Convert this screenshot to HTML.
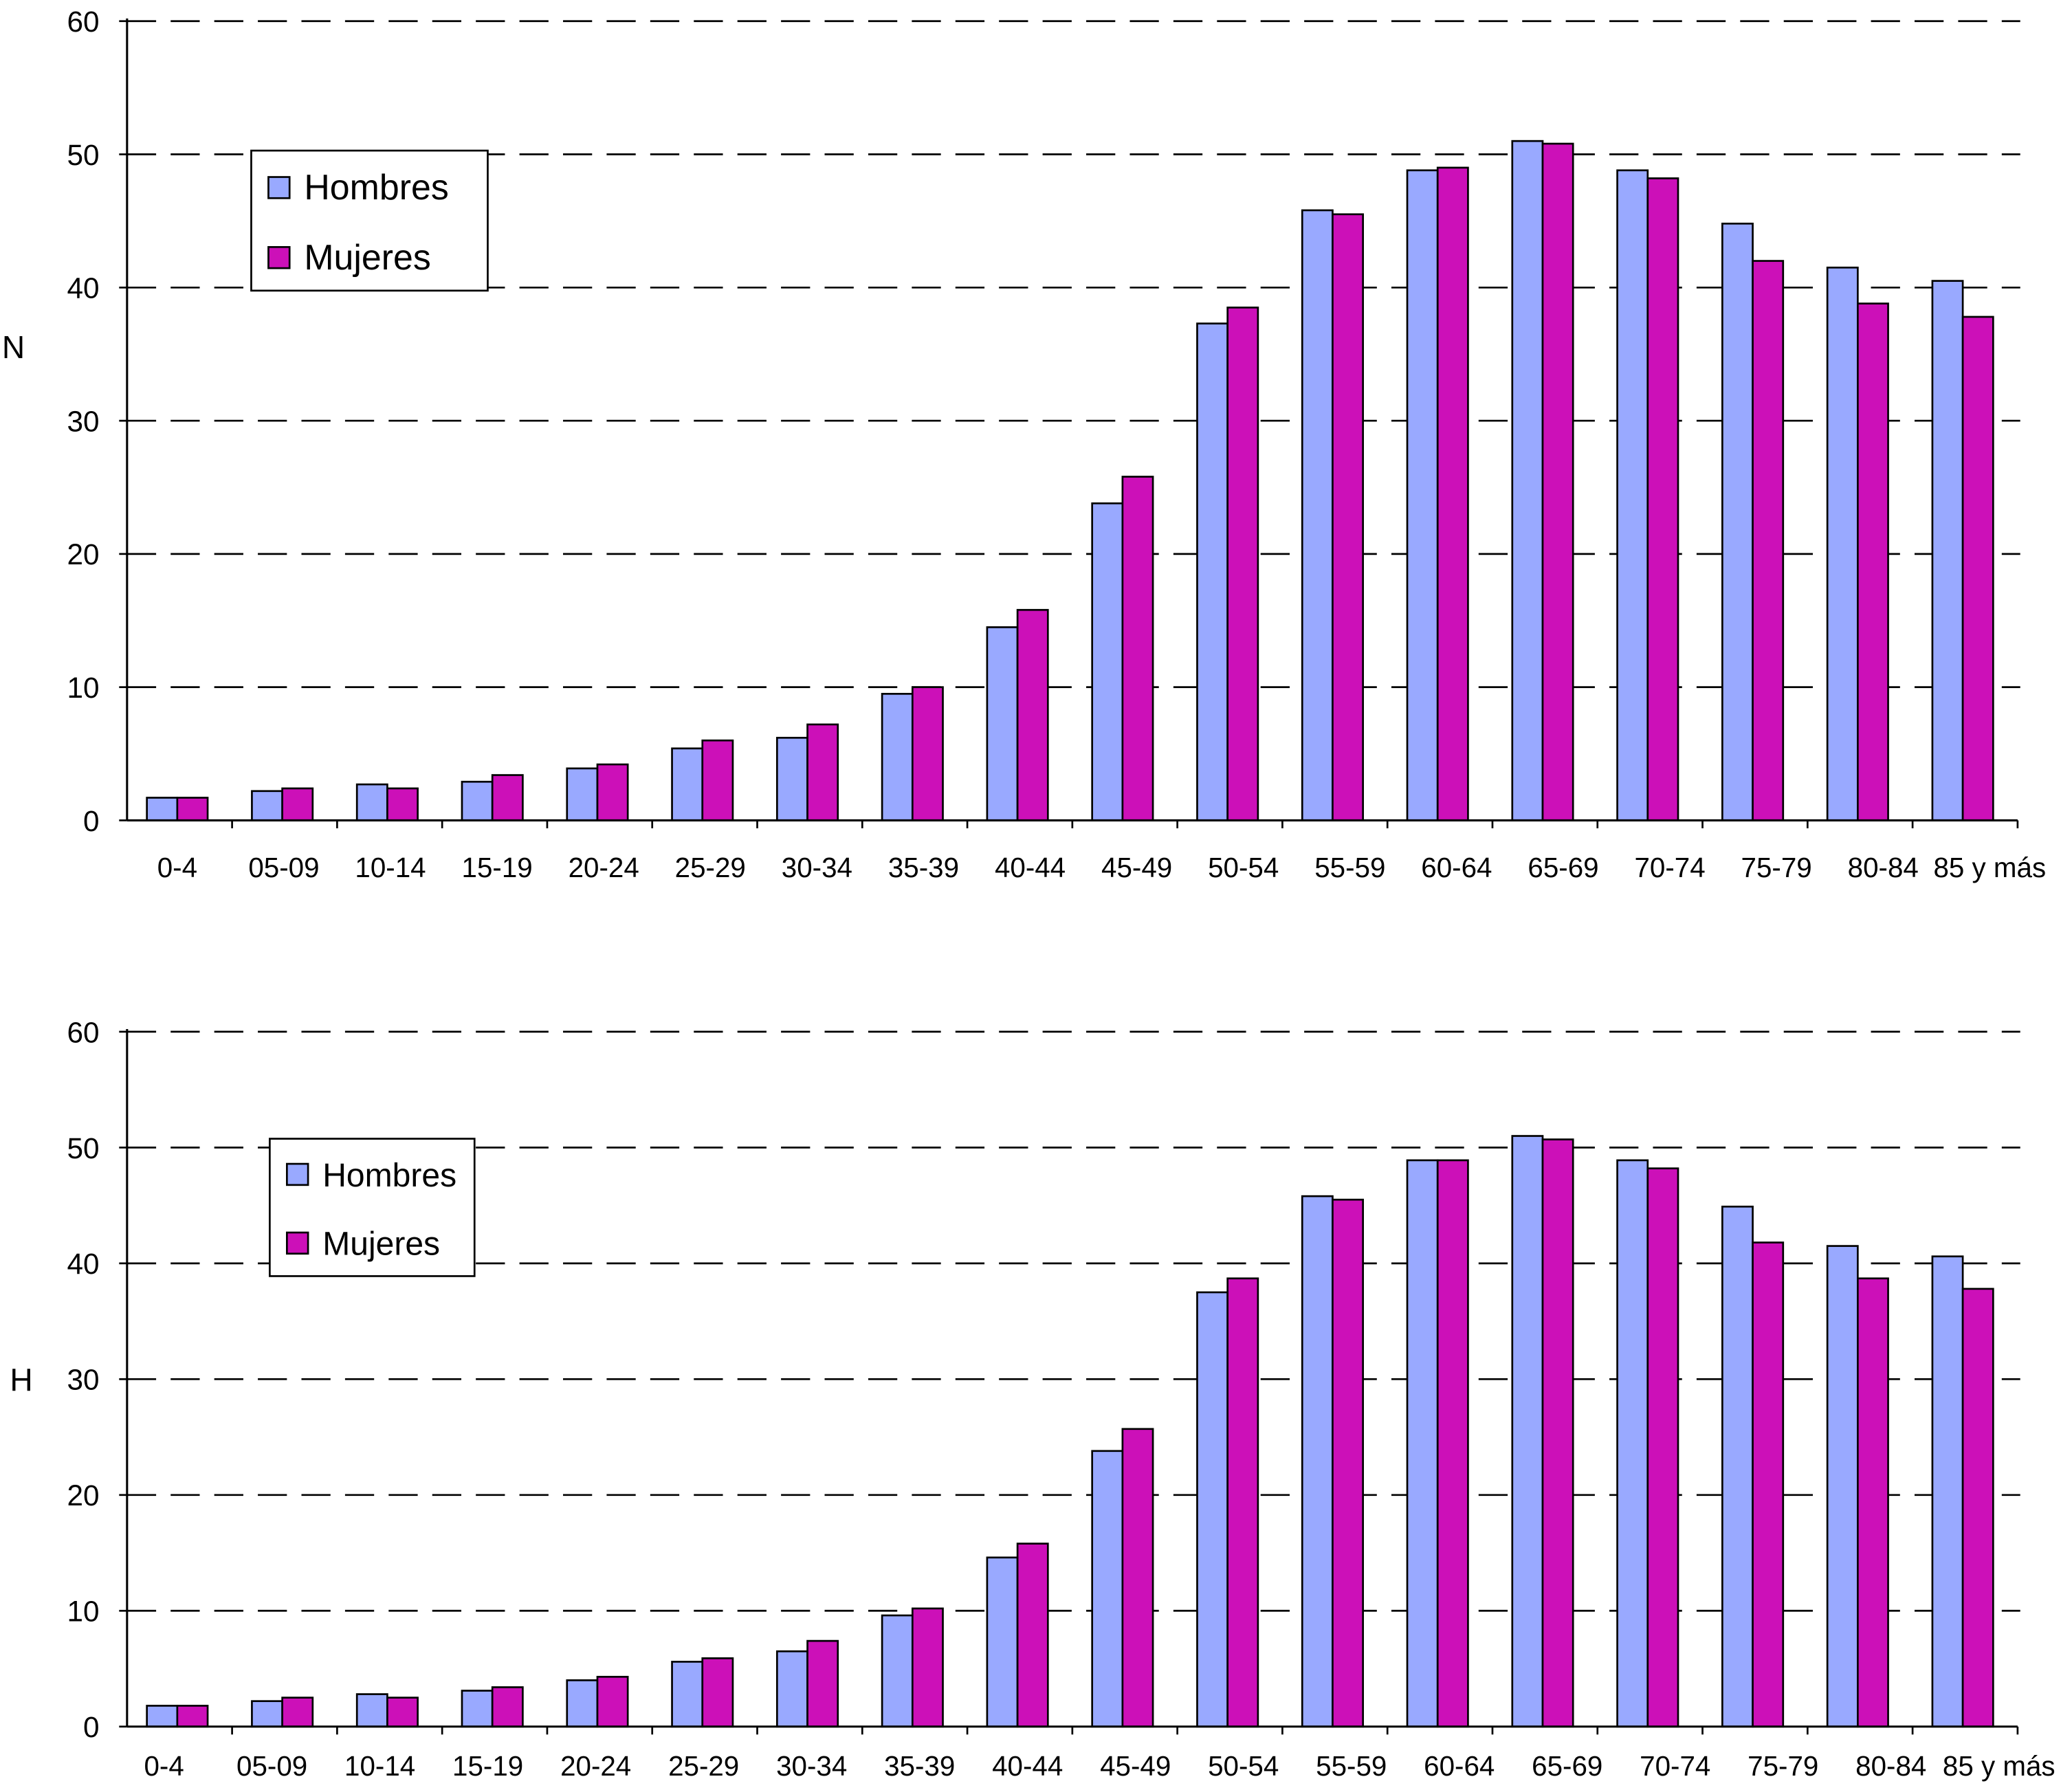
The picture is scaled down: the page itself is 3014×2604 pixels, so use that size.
<!DOCTYPE html>
<html><head><meta charset="utf-8"><style>
html,body{margin:0;padding:0;background:#fff;}
svg{display:block;font-family:"Liberation Sans",sans-serif;}
</style></head><body>
<svg id="s" width="3014" height="2604" viewBox="0 0 1568 1355" xmlns="http://www.w3.org/2000/svg"></svg>
<script>
const categories=["0-4","05-09","10-14","15-19","20-24","25-29","30-34","35-39","40-44","45-49","50-54","55-59","60-64","65-69","70-74","75-79","80-84","85 y más"];
const hombresN=[1.7,2.2,2.7,2.9,3.9,5.4,6.2,9.5,14.5,23.8,37.3,45.8,48.8,51,48.8,44.8,41.5,40.5];
const mujeresN=[1.7,2.4,2.4,3.4,4.2,6.0,7.2,10.0,15.8,25.8,38.5,45.5,49.0,50.8,48.2,42.0,38.8,37.8];
const hombresH=[1.8,2.2,2.8,3.1,4.0,5.6,6.5,9.6,14.6,23.8,37.5,45.8,48.9,51.0,48.9,44.9,41.5,40.6];
const mujeresH=[1.8,2.5,2.5,3.4,4.3,5.9,7.4,10.2,15.8,25.7,38.7,45.5,48.9,50.7,48.2,41.8,38.7,37.8];
const yTicks=[0,10,20,30,40,50,60];
const NS="http://www.w3.org/2000/svg";
const svg=document.getElementById('s');
function mk(tag,attrs,parent){const e=document.createElementNS(NS,tag);for(const k in attrs)e.setAttribute(k,attrs[k]);(parent||svg).appendChild(e);return e;}
function chart(cfg){
  const g=mk('g',{});
  
  
  const x0=96,x1=1527,y0=cfg.y0,y60=cfg.y60;
  const yS=v=>y0+(y60-y0)*v/60;
  const cw=(x1-x0)/categories.length;
  yTicks.forEach(t=>{
    const y=yS(t);
    if(t>0){const gl=mk('line',{x1:x0,x2:x1+2,y1:y,y2:y,stroke:'#000','stroke-width':1.4,'stroke-dasharray':'22,11'},g);
      
      }
    const tk=mk('line',{x1:x0-6,x2:x0,y1:y,y2:y,stroke:'#000','stroke-width':1.4},g);
    
    
    const tl=mk('text',{x:75,y:y+8,'text-anchor':'end','font-size':22},g);
    tl.textContent=t;
    
    
  });
  categories.forEach((c,i)=>{
    const cx=x0+cw*i;
    const hv=cfg.h[i],mv=cfg.m[i];
    const b1=mk('rect',{x:cx+15,y:yS(hv),width:23,height:y0-yS(hv),fill:'#99a9ff',stroke:'#000','stroke-width':1.4},g);
    
    
    const b2=mk('rect',{x:cx+38,y:yS(mv),width:23,height:y0-yS(mv),fill:'#cc10b8',stroke:'#000','stroke-width':1.4},g);
    
    
    const tk=mk('line',{x1:cx+cw,x2:cx+cw,y1:y0,y2:y0+6,stroke:'#000','stroke-width':1.4},g);
    
    
    const tl=mk('text',{x:cfg.lx0+cfg.ldx*i,y:cfg.ly,'text-anchor':'middle','font-size':21},g);
    tl.textContent=c;
    
    
  });
  const ax=mk('line',{x1:x0,x2:x0,y1:y60-2,y2:y0,stroke:'#000','stroke-width':1.6},g);
  
  
  const xa=mk('line',{x1:x0,x2:x1,y1:y0,y2:y0,stroke:'#000','stroke-width':1.6},g);
  
  
  const yt=mk('text',{x:cfg.tx,y:cfg.ty,'text-anchor':'middle','font-size':24},g);
  yt.textContent=cfg.title;
  
  
  const L=cfg.leg;
  const lg=mk('g',{},g);
  
  
  mk('rect',{x:L.x,y:L.y,width:L.w,height:L.h,fill:'#fff',stroke:'#000','stroke-width':1.4},lg);
  [['Hombres','#99a9ff',L.r1],['Mujeres','#cc10b8',L.r2]].forEach(([n,col,yy])=>{
    const e=mk('g',{},lg);
    
    
    mk('rect',{x:L.x+13,y:yy-8,width:16,height:16,fill:col,stroke:'#000','stroke-width':1.4},e);
    const t=mk('text',{x:L.x+40,y:yy+9,'font-size':L.fs},e);t.textContent=n;
  });
}
chart({name:'chart-n',y0:621,y60:16,h:hombresN,m:mujeresN,ly:664,lx0:134,ldx:80.7,title:'N',tx:10,ty:271,
  leg:{x:190,y:114,w:179,h:106,r1:142,r2:195,fs:27}});
chart({name:'chart-h',y0:1307,y60:781,h:hombresH,m:mujeresH,ly:1344,lx0:124,ldx:81.7,title:'H',tx:16,ty:1053,
  leg:{x:204,y:862,w:155,h:104,r1:889,r2:941,fs:25}});
</script>
</body></html>
